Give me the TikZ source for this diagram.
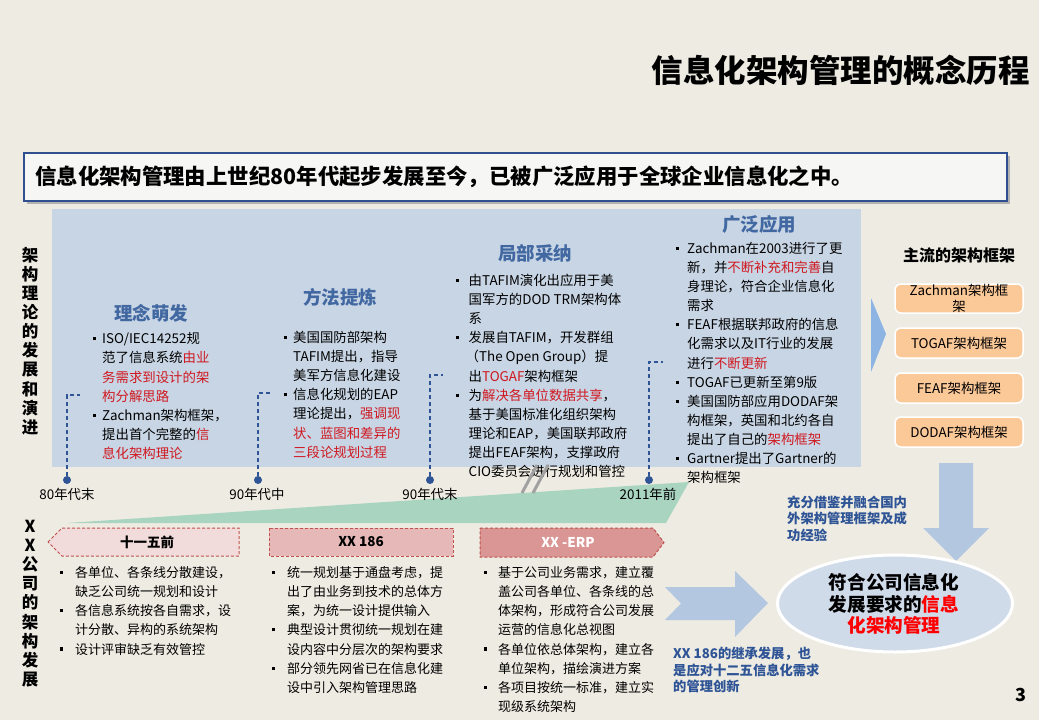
\documentclass[tikz,border=0pt]{standalone}
\usepackage{fontspec}
\setmainfont{Noto Sans CJK SC}
\usetikzlibrary{shapes.geometric}
\definecolor{bg}{RGB}{237,235,226}
\definecolor{panel}{RGB}{200,213,228}
\definecolor{headblue}{RGB}{66,104,162}
\definecolor{hired}{RGB}{208,24,32}
\definecolor{dotblue}{RGB}{47,85,151}
\definecolor{wedge}{RGB}{168,212,192}
\definecolor{arrowblue}{RGB}{180,199,225}
\definecolor{triblue}{RGB}{141,180,226}
\definecolor{peach}{RGB}{251,200,152}
\definecolor{pinka}{RGB}{242,220,219}
\definecolor{pinkb}{RGB}{230,185,184}
\definecolor{pinkc}{RGB}{217,150,148}
\definecolor{dashred}{RGB}{192,80,77}
\definecolor{ellfill}{RGB}{208,219,234}
\definecolor{boxborder}{RGB}{47,79,143}
\definecolor{hdrfill}{RGB}{246,246,244}
\definecolor{notblue}{RGB}{46,84,150}
\newcommand\rd[1]{\textcolor{hired}{#1}}
\newcommand\bq[1][9pt]{\makebox[#1][l]{\rule[3.4pt]{3.2pt}{3.2pt}}}
\newcommand\indt[1][9pt]{\hspace*{#1}}
\tikzset{
  body/.style={anchor=north west, inner sep=0pt, align=left, font=\fontsize{13.4}{19.1}\selectfont},
  bodyb/.style={anchor=north west, inner sep=0pt, align=left, font=\fontsize{13}{19.2}\selectfont},
  head/.style={inner sep=0pt, text=headblue, font=\bfseries\fontsize{18.5}{20}\selectfont},
  vlab/.style={anchor=north, inner sep=0pt, align=center, font=\bfseries\fontsize{16.5}{19.1}\selectfont},
  dotn/.style={circle, fill=dotblue, inner sep=0pt, minimum size=8pt},
  dashc/.style={dotblue, dashed, dash pattern=on 4pt off 3pt, line width=1.1pt},
  tlab/.style={inner sep=0pt, font=\fontsize{13.4}{15}\selectfont},
  pbox/.style={dashred, dash pattern=on 3pt off 2pt, line width=1pt},
  ptxt/.style={inner sep=0pt, font=\bfseries\fontsize{13.5}{15}\selectfont},
  fw/.style={draw=white, line width=1.5pt, fill=peach, rounded corners=6pt, minimum width=128pt, inner sep=0pt, align=center, font=\fontsize{13.4}{15.5}\selectfont},
  note/.style={anchor=north west, inner sep=0pt, align=left, text=notblue, font=\bfseries\fontsize{13.3}{16.5}\selectfont},
}
\begin{document}
\begin{tikzpicture}[x=1pt,y=-1pt]
\fill[bg] (0,0) rectangle (1039,720);
\useasboundingbox (0,0) rectangle (1039,720);

% title
\node[anchor=east, inner sep=0pt, font=\bfseries\fontsize{31.5}{34}\selectfont] (title) at (1030,70) {信息化架构管理的概念历程};

% header box
\fill[black!30] (27,156) rectangle (1010,204);
\draw[boxborder, fill=hdrfill, line width=1.2pt] (24,153) rectangle (1007,201);
\node[anchor=west, inner sep=0pt, font=\bfseries\fontsize{21.4}{24}\selectfont] (hdr) at (35,177) {信息化架构管理由上世纪80年代起步发展至今，已被广泛应用于全球企业信息化之中。};

% panel
\fill[panel] (52,209) rectangle (861,467);

% vertical labels
\node[vlab] (vl1) at (30,247) {架\\构\\理\\论\\的\\发\\展\\和\\演\\进};
\node[vlab] (vl2) at (30,520) {X\\X\\公\\司\\的\\架\\构\\发\\展};

% headings
\node[head] (h1) at (151,313) {理念萌发};
\node[head] (h2) at (340,297) {方法提炼};
\node[head] (h3) at (535,253) {局部采纳};
\node[head] (h4) at (759,224) {广泛应用};

% top blocks
\node[body] (b1) at (93,332.5) {\bq ISO/IEC14252规\\\indt 范了信息系统\rd{由业}\\\indt\rd{务需求到设计的架}\\\indt\rd{构分解思路}\\\bq Zachman架构框架，\\\indt 提出首个完整的\rd{信}\\\indt\rd{息化架构理论}};
\node[body] (b2) at (284,331) {\bq 美国国防部架构\\\indt TAFIM提出，指导\\\indt 美军方信息化建设\\\bq 信息化规划的EAP\\\indt 理论提出，\rd{强调现}\\\indt\rd{状、蓝图和差异的}\\\indt\rd{三段论规划过程}};
\node[body] (b3) at (456,274) {\bq[9.5pt] 由TAFIM演化出应用于美\\\indt[9.5pt] 国军方的DOD TRM架构体\\\indt[9.5pt] 系\\\bq[9.5pt] 发展自TAFIM，开发群组\\\indt[9.5pt]（The Open Group）提\\\indt[9.5pt] 出\rd{TOGAF}架构框架\\\bq[9.5pt] 为\rd{解决各单位数据共享}，\\\indt[9.5pt] 基于美国标准化组织架构\\\indt[9.5pt] 理论和EAP，美国联邦政府\\\indt[9.5pt] 提出FEAF架构，支撑政府\\\indt[9.5pt] CIO委员会进行规划和管控};
\node[body] (b4) at (676,242) {\bq[8pt] Zachman在2003进行了更\\\indt[8pt] 新，并\rd{不断补充和完善}自\\\indt[8pt] 身理论，符合企业信息化\\\indt[8pt] 需求\\\bq[8pt] FEAF根据联邦政府的信息\\\indt[8pt] 化需求以及IT行业的发展\\\indt[8pt] 进行\rd{不断更新}\\\bq[8pt] TOGAF已更新至第9版\\\bq[8pt] 美国国防部应用DODAF架\\\indt[8pt] 构框架，英国和北约各自\\\indt[8pt] 提出了自己的\rd{架构框架}\\\bq[8pt] Gartner提出了Gartner的\\\indt[8pt] 架构框架};

% green wedge and break marks
\fill[wedge] (67,523) -- (689,482) -- (666,523) -- cycle;
\draw[black!37, line width=3pt] (522,493) -- (537,465);
\draw[black!37, line width=3pt] (533,493) -- (548,465);

% timeline
\node[dotn] (d1) at (67,480) {};
\node[dotn] (d2) at (258,480) {};
\node[dotn] (d3) at (430,480) {};
\node[dotn] (d4) at (649,480) {};
\coordinate (t1) at (80,395);
\coordinate (t2) at (271,393);
\coordinate (t3) at (443,375);
\coordinate (t4) at (663,362);
\draw[dashc] (d1.north) |- (t1);
\draw[dashc] (d2.north) |- (t2);
\draw[dashc] (d3.north) |- (t3);
\draw[dashc] (d4.north) |- (t4);
\node[tlab] (l1) at (67,494) {80年代末};
\node[tlab] (l2) at (257,494) {90年代中};
\node[tlab] (l3) at (430,494) {90年代末};
\node[tlab] (l4) at (648,494) {2011年前};

% bottom headers
\draw[pbox, fill=pinka] (48,542) -- (62,528) -- (239,528) -- (239,556) -- (62,556) -- cycle;
\node[ptxt] (p1) at (147,542) {十一五前};
\draw[pbox, fill=pinkb] (269,528) rectangle (453,556);
\node[ptxt] (p2) at (361,542) {XX 186};
\draw[pbox, fill=pinkc] (480,528) -- (653,528) -- (664,542.5) -- (653,557) -- (480,557) -- cycle;
\node[ptxt, text=white] (p3) at (568,542.5) {XX -ERP};

% bottom blocks
\node[bodyb] (c1) at (60,566) {\bq[12pt] 各单位、各条线分散建设，\\\indt[12pt] 缺乏公司统一规划和设计\\\bq[12pt] 各信息系统按各自需求，设\\\indt[12pt] 计分散、异构的系统架构\\\bq[12pt] 设计评审缺乏有效管控};
\node[bodyb] (c2) at (272,566) {\bq[12pt] 统一规划基于通盘考虑，提\\\indt[12pt] 出了由业务到技术的总体方\\\indt[12pt] 案，为统一设计提供输入\\\bq[12pt] 典型设计贯彻统一规划在建\\\indt[12pt] 设内容中分层次的架构要求\\\bq[12pt] 部分领先网省已在信息化建\\\indt[12pt] 设中引入架构管理思路};
\node[bodyb] (c3) at (484,566) {\bq[11pt] 基于公司业务需求，建立覆\\\indt[11pt] 盖公司各单位、各条线的总\\\indt[11pt] 体架构，形成符合公司发展\\\indt[11pt] 运营的信息化总视图\\\bq[11pt] 各单位依总体架构，建立各\\\indt[11pt] 单位架构，描绘演进方案\\\bq[11pt] 各项目按统一标准，建立实\\\indt[11pt] 现级系统架构};

% right side
\fill[triblue] (871,298) -- (886,334) -- (871,372) -- cycle;
\node[inner sep=0pt, font=\bfseries\fontsize{16}{18}\selectfont] (mf) at (959,255) {主流的架构框架};
\node[fw, minimum height=29pt] (f1) at (959,298.5) {Zachman架构框\\架};
\node[fw, minimum height=30pt] (f2) at (959,343) {TOGAF架构框架};
\node[fw, minimum height=30pt] (f3) at (959,388) {FEAF架构框架};
\node[fw, minimum height=30pt] (f4) at (959,432) {DODAF架构框架};

% arrows
\fill[arrowblue] (939,463) -- (973,463) -- (973,528) -- (989,528) -- (956,561) -- (923,528) -- (939,528) -- cycle;
\fill[arrowblue] (665,587) -- (735,587) -- (735,571) -- (768,603) -- (735,637) -- (735,620) -- (665,620) -- (681,603.5) -- cycle;

% notes
\node[note] (n1) at (787,495.5) {充分借鉴并融合国内\\外架构管理框架及成\\功经验};
\node[note] (n2) at (673,647) {XX 186的继承发展，也\\是应对十二五信息化需求\\的管理创新};

% ellipse
\node[ellipse, draw=white, line width=3pt, fill=ellfill, minimum width=235pt, minimum height=97pt, inner sep=0pt] (ell) at (895,603.5) {};
\node[inner sep=0pt, align=center, font=\bfseries\fontsize{18.6}{21.5}\selectfont] (et) at (894,604) {符合公司信息化\\发展要求的\textcolor{red}{信息}\\\textcolor{red}{化架构管理}};

% page number
\node[inner sep=0pt, font=\bfseries\fontsize{18}{20}\selectfont] (pg) at (1021,695) {3};
\end{tikzpicture}
\end{document}
